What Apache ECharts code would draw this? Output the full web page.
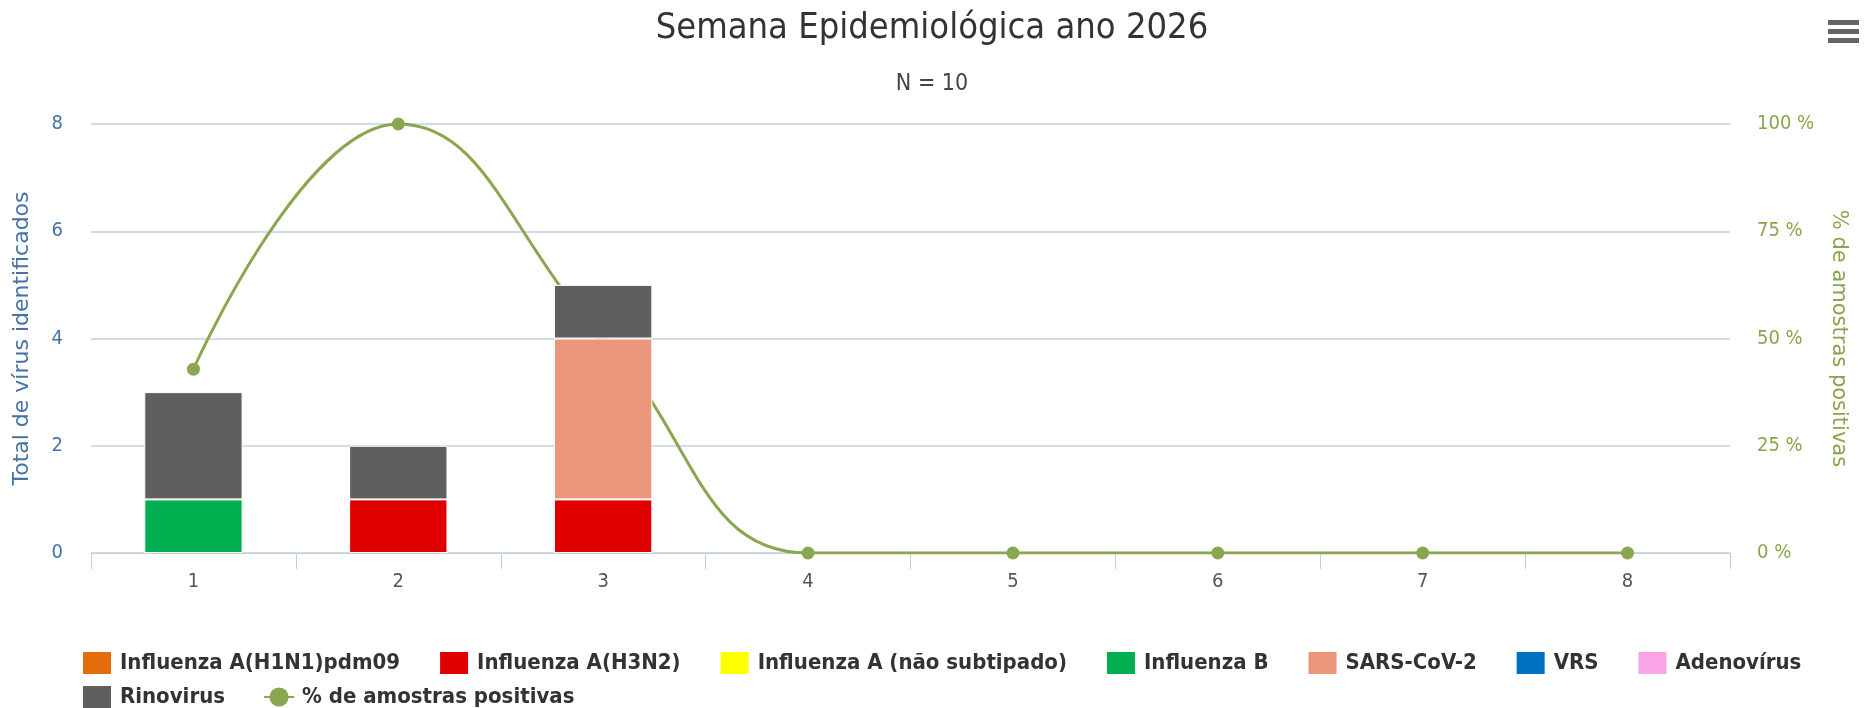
<!DOCTYPE html>
<html lang="pt">

<head>
	<meta charset="UTF-8">
	<meta name="viewport" content="width=device-width, initial-scale=1.0">
	<script src="https://cdn.jsdelivr.net/npm/echarts@6/dist/echarts.min.js"></script>
	<title>Semana Epidemiológica ano 2026</title>
	<style>
		html, body { margin: 0; padding: 0; background: #fff; }
	</style>
</head>

<body>
	<div id="main" style="width: 1864px;height:708px;"></div>

	<script>
		// semanas epidemiológicas
		var semanas = ['1', '2', '3', '4', '5', '6', '7', '8'];

		// vírus identificados por semana
		var h1n1 = [0, 0, 0, 0, 0, 0, 0, 0];
		var h3n2 = [0, 1, 1, 0, 0, 0, 0, 0];
		var fluANaoSub = [0, 0, 0, 0, 0, 0, 0, 0];
		var fluB = [1, 0, 0, 0, 0, 0, 0, 0];
		var sarsCov2 = [0, 0, 3, 0, 0, 0, 0, 0];
		var vrs = [0, 0, 0, 0, 0, 0, 0, 0];
		var adenovirus = [0, 0, 0, 0, 0, 0, 0, 0];
		var rinovirus = [2, 1, 1, 0, 0, 0, 0, 0];

		// % de amostras positivas
		var pctPositivas = [42.86, 100, 50, 0, 0, 0, 0, 0];

		var FONT = '"DejaVu Sans Condensed", "DejaVu Sans", sans-serif';
		var FONT_WIDE = '"DejaVu Sans", sans-serif';

		var virus = [
			{ name: 'Influenza A(H1N1)pdm09', data: h1n1, color: '#E46C0A' },
			{ name: 'Influenza A(H3N2)', data: h3n2, color: '#E00000' },
			{ name: 'Influenza A (não subtipado)', data: fluANaoSub, color: '#FFFF00' },
			{ name: 'Influenza B', data: fluB, color: '#00B050' },
			{ name: 'SARS-CoV-2', data: sarsCov2, color: '#E9967A' },
			{ name: 'VRS', data: vrs, color: '#0070C0' },
			{ name: 'Adenovírus', data: adenovirus, color: '#F9A3E8' },
			{ name: 'Rinovirus', data: rinovirus, color: '#5F5F5F' }
		];

		var mainChart = echarts.init(document.getElementById('main'));

		// zeros are not drawn (no empty bar outline over the line)
		var series = virus.map(function (v) {
			return {
				name: v.name,
				type: 'bar',
				stack: 'total',
				yAxisIndex: 0,
				barWidth: '48%',
				z: 3,
				itemStyle: { color: v.color, borderColor: '#fff', borderWidth: 1 },
				data: v.data.map(function (d) { return d === 0 ? '-' : d; })
			};
		});

		series.push({
			name: '% de amostras positivas',
			type: 'line',
			yAxisIndex: 1,
			smooth: 0.45,
			z: 1,
			symbol: 'circle',
			symbolSize: 13,
			lineStyle: { width: 3, color: '#8BA650' },
			itemStyle: { color: '#8BA650' },
			data: pctPositivas
		});

		var legendText = { fontFamily: FONT, fontSize: 22, fontWeight: 'bold', color: '#333', padding: [0, 0, 0, 3] };

		var mainOption = {
			animation: false,
			textStyle: { fontFamily: FONT },
			title: {
				text: 'Semana Epidemiológica ano 2026',
				subtext: 'N = 10',
				left: 'center',
				top: 6,
				itemGap: 26,
				textStyle: { fontFamily: FONT, fontSize: 36, fontWeight: 'normal', color: '#333' },
				subtextStyle: { fontFamily: FONT, fontSize: 23, color: '#444' }
			},
			toolbox: {
				right: 5,
				top: 20,
				padding: 0,
				itemSize: 31,
				feature: {
					myMenu: {
						show: true,
						title: 'menu',
						icon: 'path://M0,0H31V5H0Z M0,9H31V14H0Z M0,18H31V23H0Z',
						onclick: function () {}
					}
				},
				iconStyle: { color: '#666', borderWidth: 0 }
			},
			legend: [
				{
					left: 76,
					top: 645,
					itemWidth: 30,
					itemHeight: 24,
					itemGap: 38,
					textStyle: legendText,
					data: virus.slice(0, 7).map(function (v) { return { name: v.name, icon: 'rect' }; })
				},
				{
					left: 76,
					top: 679,
					itemWidth: 30,
					itemHeight: 24,
					itemGap: 38,
					textStyle: legendText,
					data: [{ name: 'Rinovirus', icon: 'rect' }, { name: '% de amostras positivas' }]
				}
			],
			grid: {
				left: 91,
				right: 134,
				top: 124,
				bottom: 155
			},
			xAxis: {
				type: 'category',
				data: semanas,
				axisLine: { lineStyle: { color: '#C0D0E0', width: 1 } },
				axisTick: { show: true, length: 16, lineStyle: { color: '#C0D0E0' } },
				axisLabel: { fontFamily: FONT, fontSize: 20, color: '#555', margin: 19 }
			},
			yAxis: [
				{
					type: 'value',
					min: 0,
					max: 8,
					interval: 2,
					name: 'Total de vírus identificados',
					nameLocation: 'middle',
					nameGap: 58,
					nameTextStyle: { fontFamily: FONT_WIDE, fontSize: 22, color: '#4572A7' },
					axisLine: { show: false },
					axisTick: { show: false },
					axisLabel: { fontFamily: FONT, fontSize: 20, color: '#4572A7', margin: 28 },
					splitLine: { lineStyle: { color: '#C0D0E0', width: 1.5 } }
				},
				{
					type: 'value',
					min: 0,
					max: 100,
					interval: 25,
					position: 'right',
					name: '% de amostras positivas',
					nameLocation: 'middle',
					nameRotate: -90,
					nameGap: 98,
					nameTextStyle: { fontFamily: FONT_WIDE, fontSize: 21, color: '#89A54E' },
					axisLine: { show: false },
					axisTick: { show: false },
					axisLabel: { fontFamily: FONT, fontSize: 20, color: '#89A54E', margin: 27, formatter: '{value} %' },
					splitLine: { show: false }
				}
			],
			series: series
		};

		mainChart.setOption(mainOption);
	</script>
</body>

</html>
